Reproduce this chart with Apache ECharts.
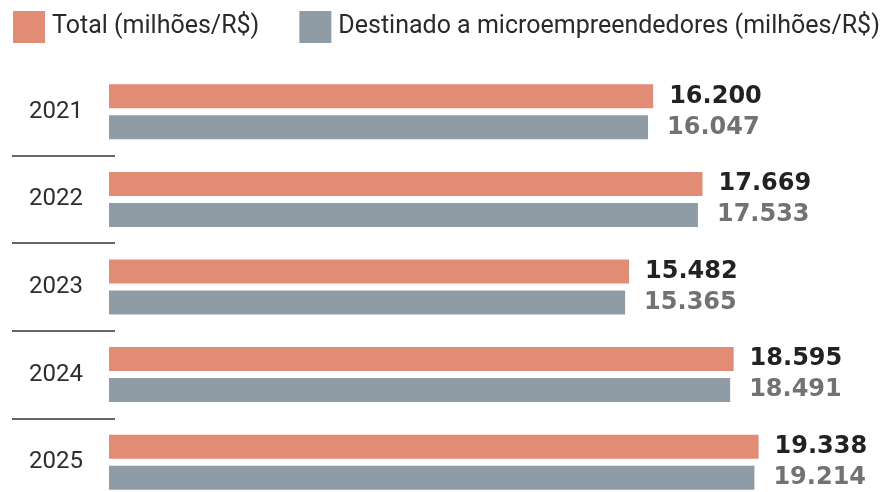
<!DOCTYPE html>
<html>
<head>
<meta charset="utf-8">
<title>Microempreendedores</title>
<script src="https://cdn.jsdelivr.net/npm/echarts@6/dist/echarts.min.js"></script>
<style>
  html, body { margin: 0; padding: 0; background: #fff; }
  #chart { width: 885px; height: 492px; }
</style>
</head>
<body>
<div id="chart"></div>
<script>
var years = ['2021', '2022', '2023', '2024', '2025']
var totalValues = [16200, 17669, 15482, 18595, 19338]
var microValues = [16047, 17533, 15365, 18491, 19214]
var seriesNames = ['Total (milhões/R$)', 'Destinado a microempreendedores (milhões/R$)']

var orange = '#e38c75'
var grey = '#8f9ca5'

// 16200 -> 16.200
function fmt (v) {
  return String(v).replace(/\B(?=(\d{3})+(?!\d))/g, '.')
}

var myChart = echarts.init(document.getElementById('chart'))

var option = {
  animation: false,
  legend: {
    left: 13,
    top: 11,
    padding: 0,
    itemWidth: 32,
    itemHeight: 32,
    itemGap: 40,
    icon: 'rect',
    textStyle: {
      fontFamily: 'Roboto',
      fontSize: 25,
      color: '#2a2a2a',
      padding: [0, 0, 0, 2]
    },
    data: seriesNames
  },
  grid: [
    // bars
    { left: 109, top: 68, height: 438, width: 739, outerBoundsMode: 'none' },
    // separator lines on the left
    { left: 12, top: 68, height: 438, width: 103, outerBoundsMode: 'none' }
  ],
  xAxis: [
    { type: 'value', gridIndex: 0, min: 0, max: 22000, show: false },
    { type: 'value', gridIndex: 1, show: false }
  ],
  yAxis: [
    {
      type: 'category',
      gridIndex: 0,
      inverse: true,
      data: years,
      axisLine: { show: false },
      axisTick: { show: false },
      splitLine: { show: false },
      axisLabel: {
        margin: 26,
        fontFamily: 'Roboto',
        fontSize: 24,
        color: '#2e2e2e'
      }
    },
    {
      type: 'category',
      gridIndex: 1,
      inverse: true,
      data: years,
      axisLine: { show: false },
      axisTick: { show: false },
      axisLabel: { show: false },
      splitLine: {
        show: true,
        showMinLine: false,
        showMaxLine: false,
        lineStyle: { color: '#333', width: 1.5 }
      }
    }
  ],
  series: [
    {
      name: seriesNames[0],
      type: 'bar',
      xAxisIndex: 0,
      yAxisIndex: 0,
      barWidth: 24,
      barGap: '29%',
      itemStyle: { color: orange },
      label: {
        show: true,
        position: 'right',
        distance: 16,
        fontFamily: 'DejaVu Sans',
        fontWeight: 'bold',
        fontSize: 24,
        color: '#222',
        formatter: function (p) { return fmt(p.value) }
      },
      data: totalValues
    },
    {
      name: seriesNames[1],
      type: 'bar',
      xAxisIndex: 0,
      yAxisIndex: 0,
      barWidth: 24,
      itemStyle: { color: grey },
      label: {
        show: true,
        position: 'right',
        distance: 19,
        fontFamily: 'DejaVu Sans',
        fontWeight: 'bold',
        fontSize: 24,
        color: '#727272',
        formatter: function (p) { return fmt(p.value) }
      },
      data: microValues
    }
  ]
}

myChart.setOption(option)
</script>
</body>
</html>
